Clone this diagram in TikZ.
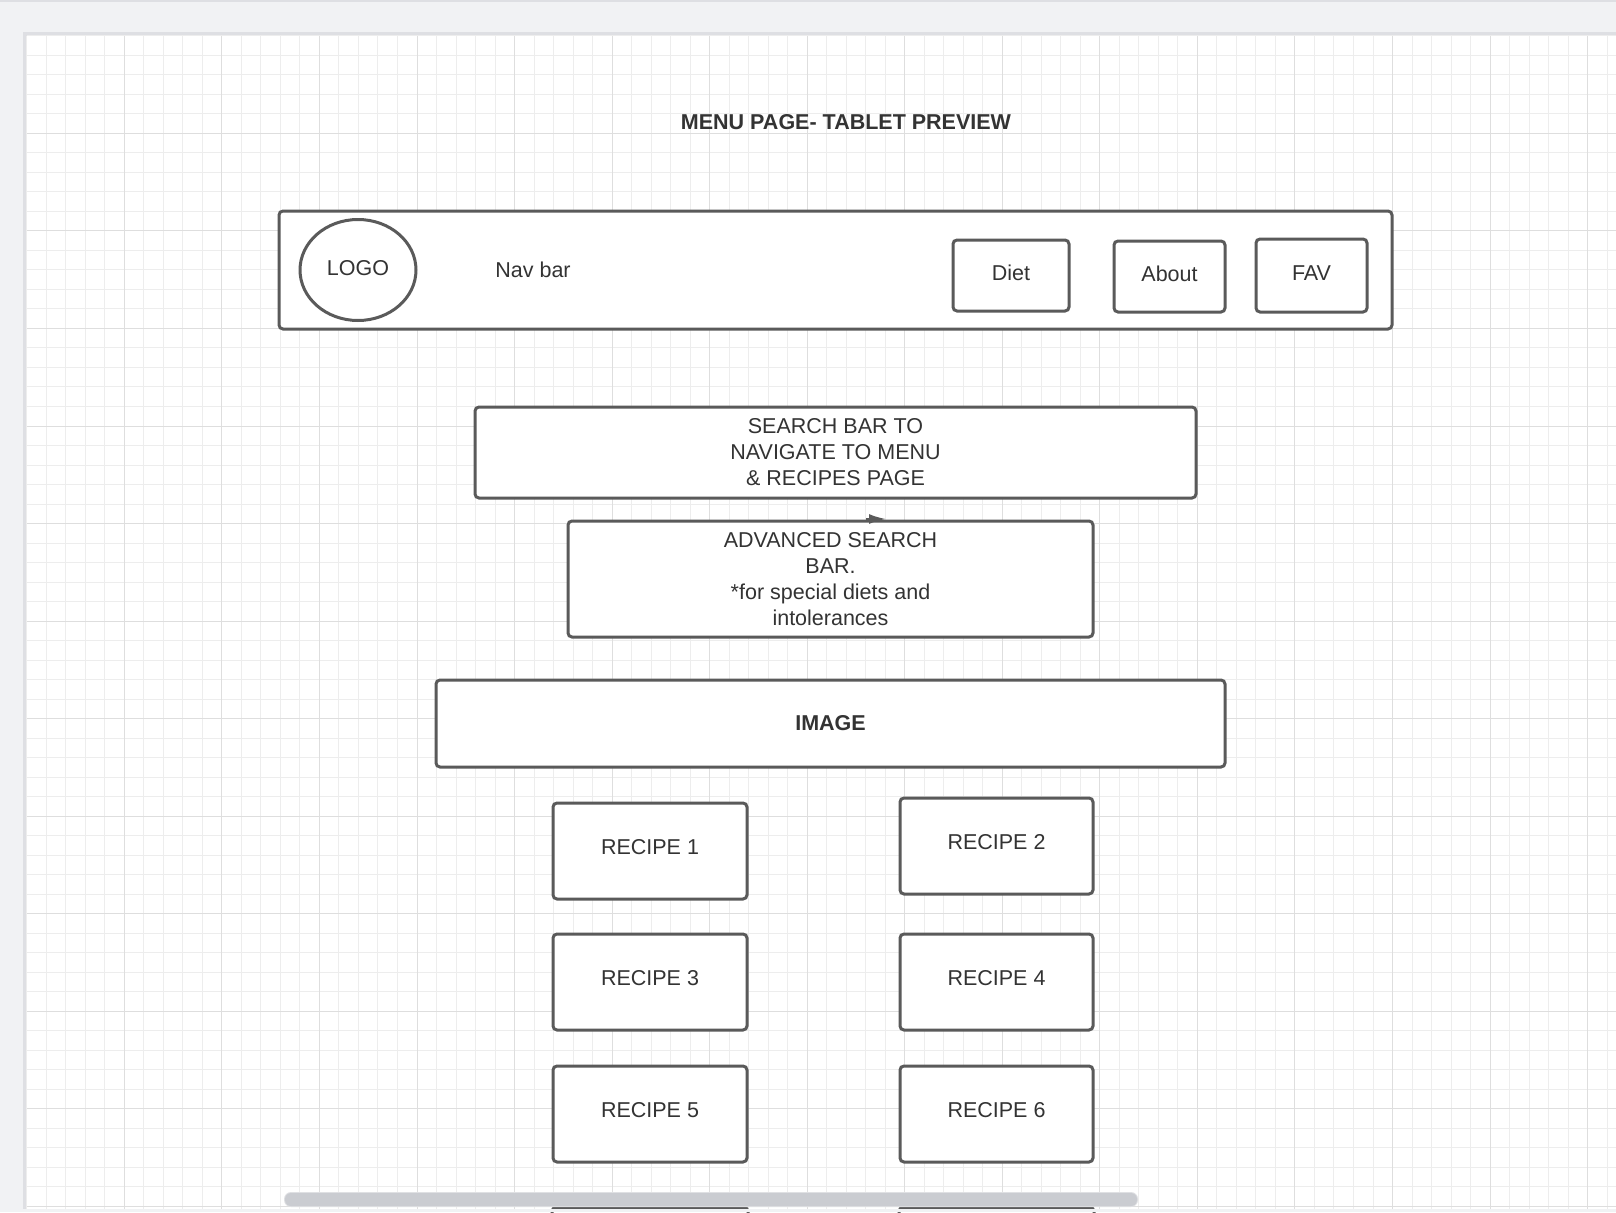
\documentclass[tikz,border=0pt]{standalone}
\usepackage{fontspec}
\setmainfont{Liberation Sans}
\usetikzlibrary{arrows.meta,shapes.geometric}
\definecolor{trait}{RGB}{90,90,90}
\definecolor{texte}{RGB}{51,51,51}
\definecolor{fond}{RGB}{241,242,244}
\definecolor{ombre}{RGB}{222,223,227}
\definecolor{grillefine}{RGB}{237,237,237}
\definecolor{grillegrosse}{RGB}{222,222,222}
\definecolor{barre}{RGB}{202,204,209}
\begin{document}
\begin{tikzpicture}[x=1pt,y=-1pt]
\tikzstyle{lien}=[-{Latex[length=17pt,width=10pt]},draw=trait,line width=2pt]
\tikzset{bloc/.style={draw=trait,line width=3pt,rounded corners=4pt,fill=white,
  text=texte,font=\fontsize{21.5}{26}\selectfont,align=center,inner sep=0pt},
  seul/.style={text height=15pt,text depth=#1},
  seul/.default={8pt},
  mot/.style={text=texte,font=\fontsize{21.5}{26}\selectfont,inner sep=0pt},
  gras/.style={mot,font=\fontsize{21.5}{26}\selectfont\bfseries}}
\useasboundingbox (0,0) rectangle (1616,1212);
% fond et grille
\fill[fond] (0,0) rectangle (1616,1212);
\fill[ombre] (0,0) rectangle (1616,2);
\fill[ombre] (23,32) rectangle (1616,1209);
\fill[white] (27,36) rectangle (1616,1209);
\foreach \i in {0,...,82}
  \draw[grillefine,line width=1pt] ({26.8+19.51*\i},36) -- ({26.8+19.51*\i},1209);
\foreach \j in {0,...,60}
  \draw[grillefine,line width=1pt] (27,{35.8+19.51*\j}) -- (1616,{35.8+19.51*\j});
\foreach \i in {1,...,16}
  \draw[grillegrosse,line width=1pt] ({26.8+97.55*\i},36) -- ({26.8+97.55*\i},1209);
\foreach \j in {1,...,12}
  \draw[grillegrosse,line width=1pt] (27,{35.8+97.55*\j}) -- (1616,{35.8+97.55*\j});

\node[gras] (titre) at (846,122) {MENU PAGE- TABLET PREVIEW};

% barre de navigation
\node[bloc,minimum width=1113pt,minimum height=118pt] (nav) at (835.5,270) {};
\node[bloc,seul=5pt,ellipse,minimum width=116pt,minimum height=101pt] (logo) at (358,270) {LOGO};
\node[mot] (navtxt) at (533,270) {Nav bar};
\node[bloc,seul=5pt,minimum width=116pt,minimum height=71pt] (diet) at (1011,275.5) {Diet};
\node[bloc,seul=6pt,minimum width=111pt,minimum height=71pt] (about) at (1169.5,276.5) {About};
\node[bloc,seul=6pt,minimum width=111pt,minimum height=73pt] (fav) at (1311.5,275.5) {FAV};

% recherche
\node[bloc,minimum width=721pt,minimum height=91pt] (search) at (835.5,452.5)
  {SEARCH BAR TO\\NAVIGATE TO MENU\\\& RECIPES PAGE};
\node[bloc,minimum width=525pt,minimum height=116pt] (adv) at (830.5,579)
  {ADVANCED SEARCH\\BAR.\\*for special diets and\\intolerances};
\coordinate (depart) at (866,519);
\coordinate (fin) at (886,519);
\draw[lien] (depart) -- (fin);

\node[bloc,font=\fontsize{21.5}{26}\selectfont\bfseries,minimum width=789pt,minimum height=87pt] (image) at (830.5,723.5) {IMAGE};

% recettes
\node[bloc,seul,minimum width=194pt,minimum height=96pt] (r1) at (650,851) {RECIPE 1};
\node[bloc,seul,minimum width=193pt,minimum height=96pt] (r2) at (996.5,846) {RECIPE 2};
\node[bloc,seul,minimum width=194pt,minimum height=96pt] (r3) at (650,982) {RECIPE 3};
\node[bloc,seul,minimum width=193pt,minimum height=96pt] (r4) at (996.5,982) {RECIPE 4};
\node[bloc,seul,minimum width=194pt,minimum height=96pt] (r5) at (650,1114) {RECIPE 5};
\node[bloc,seul,minimum width=193pt,minimum height=96pt] (r6) at (996.5,1114) {RECIPE 6};
\draw[draw=trait,line width=3pt,rounded corners=4pt,fill=white] (552,1260) rectangle (748,1207.5);
\draw[draw=trait,line width=3pt,rounded corners=4pt,fill=white] (899,1260) rectangle (1094,1207.5);

% bas de page
\fill[fond] (0,1209) rectangle (1616,1212);
\fill[barre!60,rounded corners=7pt] (284,1192) rectangle (1138,1207);
\fill[barre,rounded corners=6pt] (285,1193) rectangle (1137,1206);
\end{tikzpicture}
\end{document}
